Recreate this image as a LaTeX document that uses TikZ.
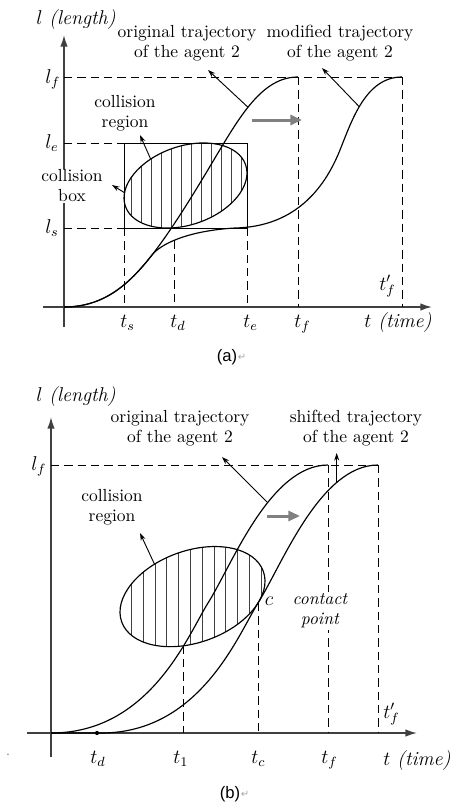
\documentclass[tikz,border=0pt]{standalone}
\usepackage{fontspec}
\newfontfamily\capfont{Liberation Sans}
\newfontfamily\symfont{DejaVu Sans}
\usetikzlibrary{arrows.meta,intersections,calc}
\begin{document}
\begin{tikzpicture}[x=0.6pt,y=-0.6pt,
  lbl/.style={font=\fontsize{10.5}{12}\selectfont, align=center, inner sep=1pt},
  axlbl/.style={font=\fontsize{12}{14}\selectfont, inner sep=0pt},
  dsh/.style={dash pattern=on 5pt off 3pt, line width=0.6pt},
  crv/.style={line width=0.7pt},
  axis/.style={line width=0.9pt, black!75, -{Latex[length=7pt,width=4.5pt]}},
  ptr/.style={line width=0.55pt, -{Stealth[length=4.5pt,width=3pt]}},
  gar/.style={line width=1.8pt, black!50, -{Triangle[length=7pt,width=6pt]}},
  hatch/.style={line width=0.55pt, black!75},
  capt/.style={font=\capfont\fontsize{10}{12}\selectfont, inner sep=0pt},
  ret/.style={font=\symfont\fontsize{6}{7}\selectfont, text=black!35, anchor=west, inner sep=0pt}]
\useasboundingbox (0,0) rectangle (454,810);

% ================= panel (a) =================
\coordinate (Ay0) at (64,327); \coordinate (Ay1) at (64,35);
\coordinate (Ax0) at (43,307); \coordinate (Ax1) at (432,307);
\draw[axis] (Ay0) -- (Ay1);
\draw[axis] (Ax0) -- (Ax1);

\coordinate (Alf0) at (64,77);  \coordinate (Alf1) at (402,77);
\coordinate (Atf)  at (298,77); \coordinate (Atf0) at (298,307);
\coordinate (Atfp0) at (402,307);
\coordinate (Ale0) at (64,143); \coordinate (Als0) at (64,228);
\coordinate (Bnw) at (124,143); \coordinate (Bse) at (247,228);
\coordinate (Bsw) at (124,228);
\coordinate (Ats0) at (124,307); \coordinate (Ate0) at (247,307);
\draw[dsh] (Alf0) -- (Alf1);
\draw[dsh] (Atf) -- (Atf0);
\draw[dsh] (Alf1) -- (Atfp0);
\draw[dsh] (Ale0) -- (Bnw);
\draw[dsh] (Als0) -- (Bsw);
\draw[dsh] (Bsw) -- (Ats0);
\draw[dsh] (Bse) -- (Ate0);
\draw[line width=0.6pt] (Bnw) rectangle (Bse);

% collision region (a)
\begin{scope}
  \clip[rotate around={19:(185.5,185.5)}] (185.5,185.5) ellipse [x radius=63.6, y radius=39.3];
  \foreach \xx in {131.5,141.5,...,245}
    \draw[hatch] (\xx,130) -- (\xx,240);
\end{scope}
\draw[crv, rotate around={19:(185.5,185.5)}] (185.5,185.5) ellipse [x radius=63.6, y radius=39.3];

% trajectories (a)
\draw[crv, name path=Aorig] (64,307) .. controls (105,307) and (130,283) .. (152,255)
  .. controls (170,232) and (190,200) .. (212,163)
  .. controls (240,116) and (262,77) .. coordinate[pos=0.45] (Aop) (298,77);
\draw[crv, name path=Amod] (64,307) .. controls (105,307) and (130,283) .. (152,255)
  .. controls (160,245) and (185,231) .. (235,228)
  .. controls (285,227) and (320,200) .. (340,150)
  .. controls (352,120) and (366,77) .. coordinate[pos=0.45] (Amp) (402,77);

\path[name path=AtdV] (174,200) -- (174,307);
\path[name intersections={of=Amod and AtdV, by=Atd}];
\draw[dsh] (Atd) -- (Atd |- Ax0);

% pointers (a)
\coordinate (AoT) at (208,70);
\coordinate (AmT) at (322,68);
\coordinate (AcrS) at (150.7,159.1); \coordinate (AcrT) at (140,135);
\coordinate (AcbS) at (125,193);     \coordinate (AcbT) at (112,185);
\coordinate (AgS) at (252,120);      \coordinate (AgT) at (302,120);
\draw[ptr] (Aop) -- (AoT);
\draw[ptr] (Amp) -- (AmT);
\draw[ptr] (AcrS) -- (AcrT);
\draw[ptr] (AcbS) -- (AcbT);
\draw[gar] (AgS) -- (AgT);

% labels (a)
\node[axlbl] (Aylab) at (76,20) {$l$ \textit{(length)}};
\node[axlbl] (Axlab) at (398,323) {$t$ \textit{(time)}};
\node[lbl] (Aot) at (187,43) {original trajectory\\of the agent 2};
\node[lbl] (Amt) at (340,43) {modified trajectory\\of the agent 2};
\node[lbl] (Acr) at (125,113) {collision\\region};
\node[lbl, fill=white, inner sep=0.5pt] (Acb) at (72,186) {collision\\box};
\node[axlbl, anchor=base west] (Alf) at (45,83) {$l_f$};
\node[axlbl, anchor=base west] (Ale) at (45,148) {$l_e$};
\node[axlbl, anchor=base west] (Als) at (45,233) {$l_s$};
\node[axlbl, anchor=base west] (Ats) at (120,327) {$t_s$};
\node[axlbl, anchor=base west] (Atd) at (170,327) {$t_d$};
\node[axlbl, anchor=base west] (Ate) at (243,327) {$t_e$};
\node[axlbl, anchor=base west] (Atfl) at (294,327) {$t_f$};
\node[axlbl, anchor=base west] (Atfp) at (379,290) {$t'_f$};
\node[capt] (Acap) at (227,357) {(a)};
\node[ret] (AcapR) at (Acap.east) {↵};

% ================= panel (b) =================
\coordinate (By0) at (51,757); \coordinate (By1) at (51,417);
\coordinate (Bx0) at (27,733); \coordinate (Bx1) at (417,733);
\draw[axis] (By0) -- (By1);
\draw[axis] (Bx0) -- (Bx1);

\coordinate (Blf0) at (51,465); \coordinate (Blf1) at (378,465);
\coordinate (Btf) at (328,465); \coordinate (Btf0) at (328,733);
\coordinate (Btfp0) at (378,733);
\draw[dsh] (Blf0) -- (Blf1);
\draw[dsh] (Btf) -- (Btf0);
\draw[dsh] (Blf1) -- (Btfp0);

% collision region (b)
\begin{scope}
  \clip[rotate around={19.6:(192.5,596.6)}] (192.5,596.6) ellipse [x radius=75.2, y radius=45.9];
  \foreach \xx in {131.5,143.3,...,270}
    \draw[hatch] (\xx,530) -- (\xx,660);
\end{scope}
\draw[crv, name path=Bell, rotate around={19.6:(192.5,596.6)}] (192.5,596.6) ellipse [x radius=75.2, y radius=45.9];

% trajectories (b)
\draw[crv, name path=Borig] (51,733) .. controls (150,733) and (188,635) .. (208,603)
  .. controls (232,565) and (270,465) .. coordinate[pos=0.6] (Bop) (328,465);
\draw[crv] (51,733) -- (101,733) .. controls (200,733) and (238,635) .. (258,603) coordinate (Bc)
  .. controls (282,565) and (320,465) .. coordinate[pos=0.74] (Bsp) (378,465);

\path[name intersections={of=Borig and Bell, sort by=Borig, by={Bi1,Bi2}}];
\draw[dsh] (Bi1) -- (Bi1 |- Bx0);
\draw[dsh] (Bc) -- (Bc |- Bx0);

\node[circle, fill, inner sep=0pt, minimum size=2.5pt] (Btddot) at (97,733) {};

% pointers (b)
\coordinate (BoT) at (222,457);
\coordinate (BsT) at (336,453);
\coordinate (BcrS) at (154.5,564.2); \coordinate (BcrT) at (140,533);
\coordinate (BgS) at (267,516);      \coordinate (BgT) at (300,516);
\draw[ptr] (Bop) -- (BoT);
\draw[ptr] (Bsp) -- (Bsp |- BsT);
\draw[ptr] (BcrS) -- (BcrT);
\draw[gar] (BgS) -- (BgT);

% labels (b)
\node[axlbl] (Bylab) at (76,397) {$l$ \textit{(length)}};
\node[axlbl] (Bxlab) at (417,761) {$t$ \textit{(time)}};
\node[lbl] (Bot) at (180,428) {original trajectory\\of the agent 2};
\node[lbl] (Bst) at (356,428) {shifted trajectory\\of the agent 2};
\node[lbl] (Bcr) at (112,507) {collision\\region};
\node[lbl, fill=white, font=\fontsize{10.5}{12}\selectfont\itshape] (Bcp) at (320,611) {contact\\point};
\node[axlbl] (Bclab) at (269,601) {$c$};
\node[axlbl, anchor=base west] (Blf) at (31,470) {$l_f$};
\node[axlbl, anchor=base west] (Btd) at (90,763) {$t_d$};
\node[axlbl, anchor=base west] (Bt1) at (173,763) {$t_1$};
\node[axlbl, anchor=base west] (Btc) at (251,763) {$t_c$};
\node[axlbl, anchor=base west] (Btfl) at (321,763) {$t_f$};
\node[axlbl, anchor=base west] (Btfp) at (383,718) {$t'_f$};
\node[font=\fontsize{8}{9}\selectfont, text=black!60, inner sep=0pt] (Bdot) at (8,755) {.};
\node[capt] (Bcap) at (230,794) {(b)};
\node[ret] (BcapR) at (Bcap.east) {↵};
\end{tikzpicture}
\end{document}
